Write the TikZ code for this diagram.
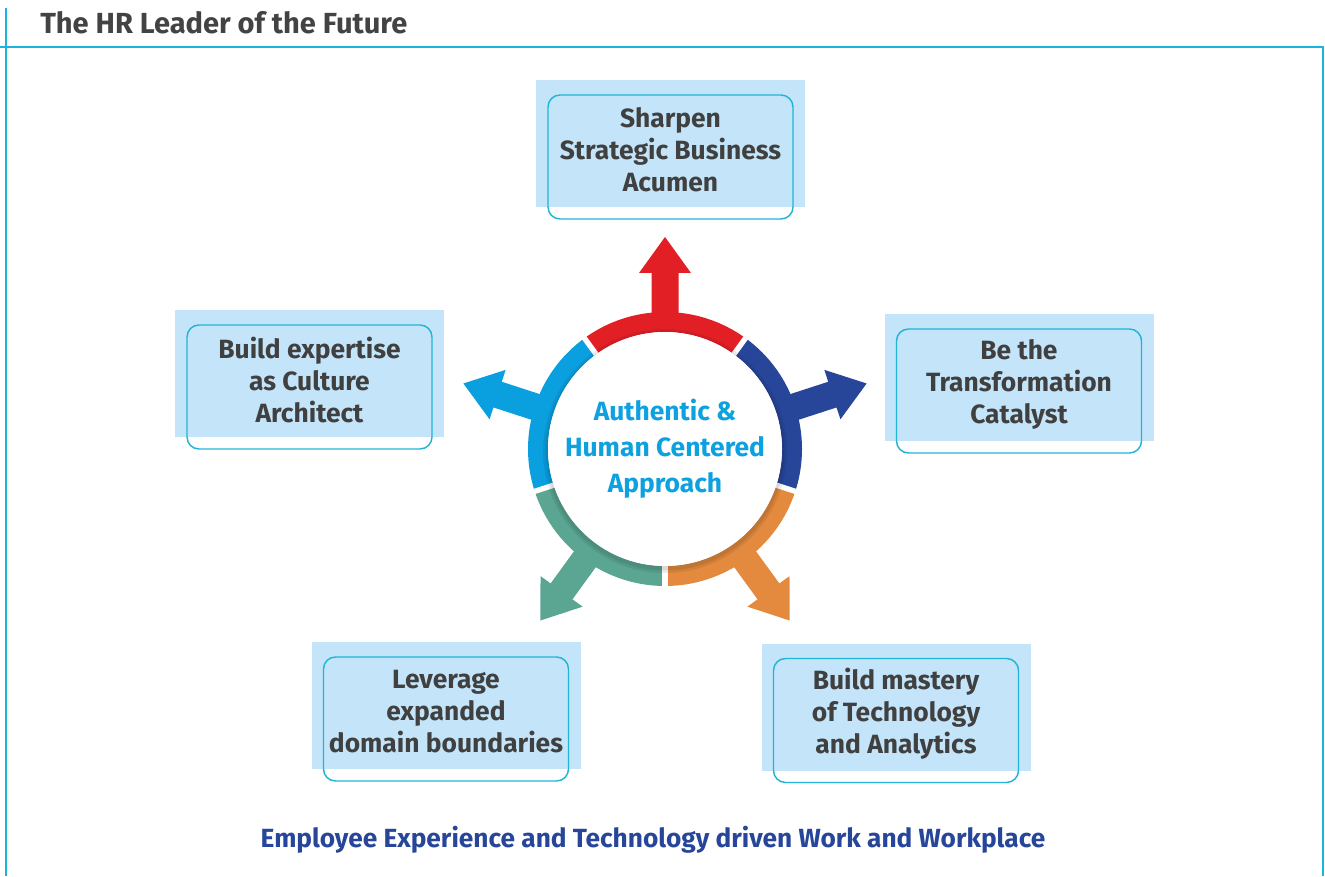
\documentclass[tikz,border=0pt]{standalone}
\usepackage{fontspec}
\setmainfont{Fira Sans}
\definecolor{framecol}{HTML}{19B5DB}
\definecolor{titlegrey}{HTML}{434343}
\definecolor{boxfillcol}{HTML}{C4E5F9}
\definecolor{boxlinecol}{HTML}{22B4D6}
\definecolor{textgrey}{HTML}{404040}
\definecolor{segred}{HTML}{E31F26}
\definecolor{segnavy}{HTML}{27469A}
\definecolor{segorange}{HTML}{E38A3E}
\definecolor{segteal}{HTML}{5BA593}
\definecolor{segblue}{HTML}{0AA0DF}
\definecolor{hubtext}{HTML}{0EA1DF}
\definecolor{foottext}{HTML}{27469A}
\tikzset{
  frameline/.style={draw=framecol, line width=1.5pt},
  titletext/.style={text=titlegrey, font=\fontsize{21.8}{26}\selectfont\bfseries, inner sep=0pt},
  boxfill/.style={fill=boxfillcol, draw=none, minimum width=201.75pt, minimum height=95.25pt, inner sep=0pt},
  boxline/.style={draw=boxlinecol, line width=1.1pt, rounded corners=9pt, minimum width=183.75pt, minimum height=93pt, inner sep=0pt},
  boxtext/.style={text=textgrey, align=center, font=\fontsize{19.8}{24}\selectfont\bfseries, inner sep=0pt},
  hub/.style={circle, fill=white, minimum size=175.5pt, inner sep=0pt, text=hubtext, align=center, font=\fontsize{19.8}{27}\selectfont\bfseries},
  foot/.style={text=foottext, font=\fontsize{19.7}{24}\selectfont\bfseries, inner sep=0pt}
}
\newcommand\hrarrow[2]{%
  \fill[#2, rotate=#1] (118,-13.5) -- (176,-13.5) -- (176,-26) -- (212,0) -- (176,26) -- (176,13.5) -- (118,13.5) -- cycle;}
\newcommand\hrseg[3]{%
  \fill[#3] (#1:137) arc[start angle=#1, end angle=#2, radius=137] -- (#2:117) arc[start angle=#2, end angle=#1, radius=117] -- cycle;}
\newcommand\hrbox[4]{%
  \node[boxfill] (#1fill) at (#2,#3+13.5) {};
  \node[boxline] (#1) at (#2,#3) {};
  \node[boxtext] (#1text) at (#2,#3+7) {#4};}
\begin{document}
\begin{tikzpicture}[x=0.75pt,y=0.75pt]
\useasboundingbox (0,0) rectangle (1325,876);
% frame
\draw[frameline] (6,868) -- (6,0);
\draw[frameline] (0,829) -- (1323,829) -- (1323,0);
\node[titletext, anchor=west] (title) at (40,853) {The HR Leader of the Future};
% hub graphics
\begin{scope}[shift={(665,427)}]
  \hrarrow{90}{segred}
  \hrarrow{162}{segblue}
  \hrarrow{234}{segteal}
  \hrarrow{306}{segorange}
  \hrarrow{18}{segnavy}
  \hrseg{54}{126}{segred}
  \hrseg{126}{198}{segblue}
  \hrseg{198}{270}{segteal}
  \hrseg{270}{342}{segorange}
  \hrseg{-18}{54}{segnavy}
  \foreach \a in {54,126,198,270,342} \draw[white, line width=4pt] (\a:110) -- (\a:140);
  \fill[black, opacity=0.07] (0,-2) circle (122);
  \fill[black, opacity=0.08] (0,-2) circle (119.5);
\end{scope}
\node[hub] (hubnode) at (665,427) {Authentic \&\\Human Centered\\Approach};
% boxes
\hrbox{top}{670.5}{719}{Sharpen\\Strategic Business\\Acumen}
\hrbox{left}{309.5}{489}{Build expertise\\as Culture\\Architect}
\hrbox{right}{1019}{485}{Be the\\Transformation\\Catalyst}
\hrbox{bl}{446}{157}{Leverage\\expanded\\domain boundaries}
\hrbox{br}{896}{155.5}{Build mastery\\of Technology\\and Analytics}
\node[foot] (footer) at (653,36) {Employee Experience and Technology driven Work and Workplace};
\end{tikzpicture}
\end{document}
